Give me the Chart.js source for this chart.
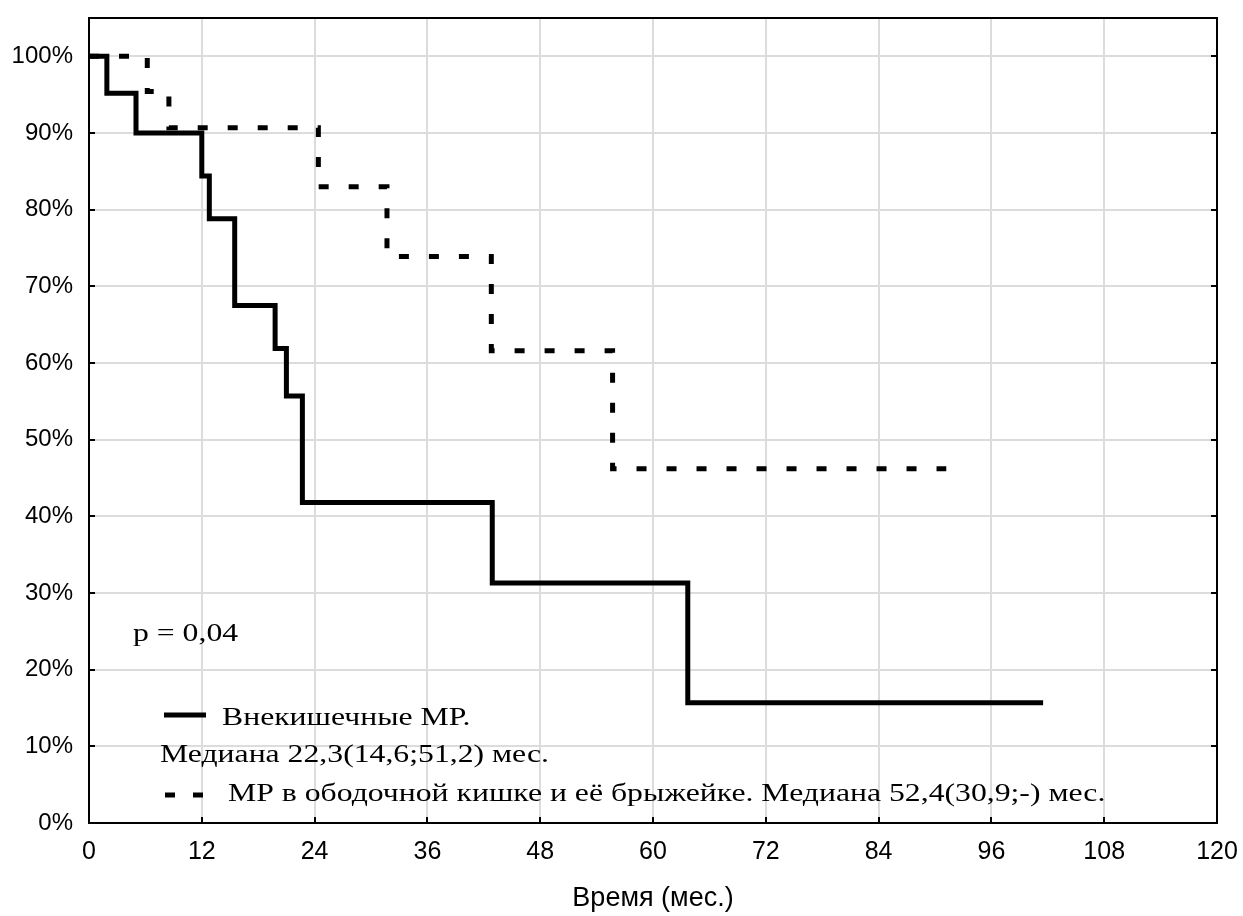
<!DOCTYPE html>
<html><head><meta charset="utf-8">
<script src="https://cdn.jsdelivr.net/npm/chart.js@4/dist/chart.umd.min.js"></script>
<style>html,body{margin:0;padding:0;background:#fff;}#wrap{width:1243px;height:916px;}</style>
</head><body><div id="wrap"><canvas id="c"></canvas></div>
<script>
// ---- data ----
const extraTimes    = [0, 1.9, 5.0, 12.0, 12.8, 15.5, 19.8, 21.0, 22.7, 42.9, 63.7, 101.5];
const extraSurvival = [100, 95.2, 90.0, 84.4, 78.8, 67.5, 61.9, 55.7, 41.8, 31.3, 15.7, 15.7];
const colonTimes    = [0, 6.2, 8.5, 24.4, 31.7, 42.8, 55.7, 91.2];
const colonSurvival = [100, 95.4, 90.7, 83.0, 73.9, 61.6, 46.2, 46.2];
const seriesNames   = ['Внекишечные МР.', 'МР в ободочной кишке и её брыжейке.'];
const legendRows    = ['Внекишечные МР.', 'Медиана 22,3(14,6;51,2) мес.', 'МР в ободочной кишке и её брыжейке. Медиана 52,4(30,9;-) мес.'];
const xTickValues   = [0, 12, 24, 36, 48, 60, 72, 84, 96, 108, 120];
const yTickValues   = [0, 10, 20, 30, 40, 50, 60, 70, 80, 90, 100];
const xTitle        = 'Время (мес.)';
const pValueText    = 'p = 0,04';

const SANS = '"Liberation Sans", Arial, sans-serif';
const SERIF = '"Liberation Serif", "Times New Roman", serif';
const SX = 1.22;

Chart.defaults.color = '#000';

function stretchedText(ctx, txt, x, y) {
  ctx.save();
  ctx.translate(x, y);
  ctx.scale(SX, 1);
  ctx.fillText(txt, 0, 0);
  ctx.restore();
}

const decor = {
  id: 'decor',
  afterDatasetsDraw(chart) {
    const {ctx, chartArea: a, scales: {x, y}} = chart;
    ctx.save();
    // frame
    ctx.strokeStyle = '#000';
    ctx.lineWidth = 2;
    ctx.strokeRect(a.left, a.top, a.right - a.left, a.bottom - a.top);
    // inward tick marks
    ctx.lineWidth = 2;
    ctx.beginPath();
    yTickValues.forEach(v => {
      const py = Math.round(y.getPixelForValue(v));
      ctx.moveTo(a.left, py); ctx.lineTo(a.left + 6, py);
      ctx.moveTo(a.right, py); ctx.lineTo(a.right - 6, py);
    });
    xTickValues.forEach(v => {
      const px = Math.round(x.getPixelForValue(v));
      ctx.moveTo(px, a.bottom); ctx.lineTo(px, a.bottom - 6);
    });
    ctx.stroke();

    // annotations
    ctx.fillStyle = '#000';
    ctx.font = '26px ' + SERIF;
    ctx.textBaseline = 'alphabetic';
    ctx.textAlign = 'left';
    const L = a.left, T = a.top;
    stretchedText(ctx, pValueText, L + 44, T + 623);

    // legend
    const ds = chart.data.datasets;
    ctx.lineWidth = ds[0].borderWidth;
    ctx.setLineDash([]);
    ctx.beginPath(); ctx.moveTo(L + 75, T + 697); ctx.lineTo(L + 117, T + 697); ctx.stroke();
    stretchedText(ctx, legendRows[0], L + 133, T + 707);
    stretchedText(ctx, legendRows[1], L + 71, T + 744);
    ctx.lineWidth = ds[1].borderWidth;
    ctx.setLineDash([10, 18]);
    ctx.beginPath(); ctx.moveTo(L + 76, T + 777); ctx.lineTo(L + 114, T + 777); ctx.stroke();
    ctx.setLineDash([]);
    stretchedText(ctx, legendRows[2], L + 139, T + 783);
    ctx.restore();
  }
};

const toPoints = (ts, vs) => ts.map((t, i) => ({x: t, y: vs[i]}));

new Chart(document.getElementById('c'), {
  type: 'line',
  data: {
    datasets: [
      {label: seriesNames[0], data: toPoints(extraTimes, extraSurvival), borderColor: '#000', borderWidth: 5,
       stepped: 'before', pointRadius: 0, borderCapStyle: 'butt', borderJoinStyle: 'miter', fill: false},
      {label: seriesNames[1], data: toPoints(colonTimes, colonSurvival), borderColor: '#000', borderWidth: 5,
       borderDash: [10, 20], stepped: 'before', pointRadius: 0, borderCapStyle: 'butt', borderJoinStyle: 'miter', fill: false}
    ]
  },
  options: {
    responsive: true, maintainAspectRatio: false, animation: false,
    layout: {padding: {top: 18, right: 26, left: 0, bottom: 0}},
    plugins: {legend: {display: false}, tooltip: {enabled: false}},
    scales: {
      x: {
        type: 'linear', min: 0, max: 120,
        afterBuildTicks: s => { s.ticks = xTickValues.map(v => ({value: v})); },
        afterFit: s => { s.height = 93; s.paddingLeft = 0; s.paddingRight = 0; },
        grid: {color: '#dcdcdc', lineWidth: 2, drawTicks: false},
        border: {display: false},
        ticks: {padding: 14, font: {family: SANS, size: 25}, color: '#000', maxRotation: 0, autoSkip: false},
        title: {display: true, text: xTitle, font: {family: SANS, size: 27}, color: '#000', padding: {top: 1, bottom: 1}}
      },
      y: {
        min: 0, max: 105,
        afterBuildTicks: s => { s.ticks = yTickValues.map(v => ({value: v})); },
        afterFit: s => { s.width = 89; s.paddingTop = 0; s.paddingBottom = 0; },
        grid: {color: '#dcdcdc', lineWidth: 2, drawTicks: false},
        border: {display: false},
        ticks: {padding: 16, font: {family: SANS, size: 24}, color: '#000', callback: v => v + '%'}
      }
    }
  },
  plugins: [decor]
});
</script></body></html>
